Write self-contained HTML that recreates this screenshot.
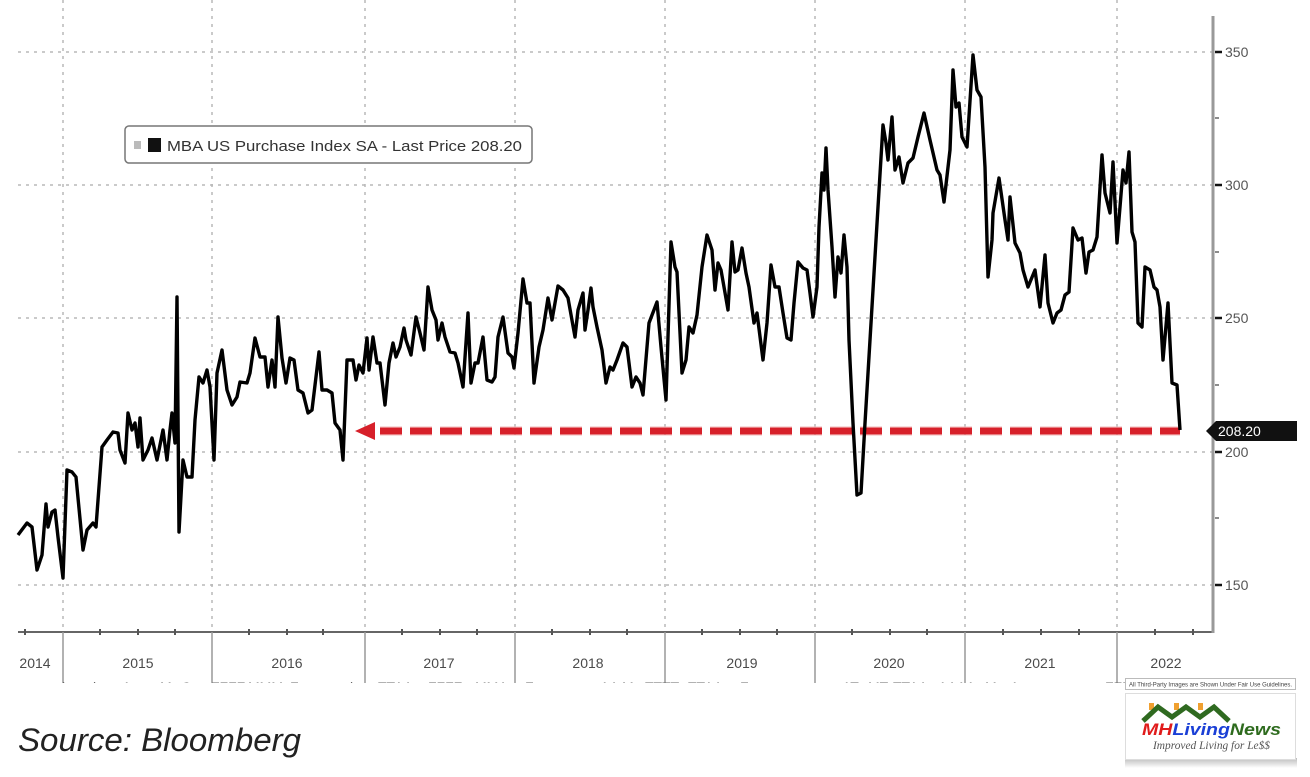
<!DOCTYPE html>
<html><head><meta charset="utf-8"><style>
html,body{margin:0;padding:0;background:#fff;}
svg{display:block;}
</style></head><body>
<svg width="1310" height="777" viewBox="0 0 1310 777" xmlns="http://www.w3.org/2000/svg">
<defs>
<clipPath id="row2"><rect x="0" y="672" width="1300" height="11"/></clipPath>
<clipPath id="tagclip"><rect x="1200" y="410" width="97" height="40"/></clipPath>
<linearGradient id="shad" x1="0" y1="0" x2="0" y2="1"><stop offset="0" stop-color="#bbb"/><stop offset="1" stop-color="#fff"/></linearGradient>
</defs>
<rect width="1310" height="777" fill="#fff"/>

<!-- horizontal grid -->
<g stroke="#b8b8b8" stroke-width="1.5" stroke-dasharray="3 5">
<line x1="18" y1="52" x2="1212" y2="52"/>
<line x1="18" y1="185" x2="1212" y2="185"/>
<line x1="18" y1="318" x2="1212" y2="318"/>
<line x1="18" y1="452" x2="1212" y2="452"/>
<line x1="18" y1="585" x2="1212" y2="585"/>
</g>
<!-- vertical grid -->
<g stroke="#b8b8b8" stroke-width="1.5" stroke-dasharray="3 5">
<line x1="63" y1="0" x2="63" y2="631"/>
<line x1="212" y1="0" x2="212" y2="631"/>
<line x1="365" y1="0" x2="365" y2="631"/>
<line x1="515" y1="0" x2="515" y2="631"/>
<line x1="665" y1="0" x2="665" y2="631"/>
<line x1="815" y1="0" x2="815" y2="631"/>
<line x1="965" y1="0" x2="965" y2="631"/>
<line x1="1117" y1="0" x2="1117" y2="631"/>
</g>

<!-- legend -->
<rect x="125" y="126" width="407" height="37" rx="4" fill="#fff" stroke="#777" stroke-width="1.5"/>
<rect x="134" y="141" width="7" height="8" fill="#bbb"/>
<rect x="148" y="138" width="13" height="14" fill="#111"/>
<text x="167" y="151" font-family="Liberation Sans, sans-serif" font-size="15" fill="#333" textLength="355" lengthAdjust="spacingAndGlyphs">MBA US Purchase Index SA - Last Price 208.20</text>

<!-- red dashed arrow -->
<line x1="380" y1="431" x2="1180" y2="431" stroke="#f2b8b8" stroke-width="10" stroke-dasharray="22 8" opacity="0.5"/>
<line x1="380" y1="431" x2="1180" y2="431" stroke="#d7202a" stroke-width="7" stroke-dasharray="22 8"/>
<polygon points="355,431 375,422 375,440" fill="#d7202a"/>

<!-- data line -->
<polyline fill="none" stroke="#000" stroke-width="3.4" stroke-linejoin="round" points="
18,535 27,523 32,527 37,570 42,555 46,504 48,527 52,512 55,510 58,537 63,578 67,470 72,472 76,477 83,550 87,530 93,523 96,527 102,447 107,440 113,432 118,433 120,450 125,463 128,413 132,430 135,423 138,447 140,418 143,460 148,450 152,438 157,460 163,430 167,460 170,430 172,413 175,443 177,297 179,532 183,460 187,477 192,477 195,420 199,377 203,383 207,370 210,387 214,460 217,373 222,350 227,390 232,405 237,397 240,382 247,383 250,373 255,338 260,357 265,357 268,387 272,360 275,387 278,317 282,358 286,383 290,358 294,360 298,390 303,393 308,413 312,410 319,352 322,390 327,390 332,393 335,423 340,430 343,460
347,360 353,360 356,380 359,365 363,373 367,338 369,370 373,337 377,363 380,363 385,405 389,363 393,343 396,357 400,347 404,328 406,340 411,355 416,317 420,333 424,350 428,287 432,310 436,320 438,340 442,323 445,337 450,352 455,353 458,363 463,387 468,313 471,383 475,363 478,363 483,337 487,380 492,382 495,377 498,337 503,317 508,353 512,357 514,368 518,333 523,279 527,303 530,303 534,383 539,347 543,330 548,298 552,320 558,286 563,290 568,298 575,337 578,310 583,293 585,330 588,310 591,288 593,307 597,327 602,350 606,383 610,367 613,370 617,360 623,343 627,347 632,387 636,377 640,383 643,395 649,323 657,302 661,347 666,400 671,242 675,267 677,272 682,373 686,360 689,327 693,333 697,315 702,267 707,235 712,250 715,290 718,263
721,270 724,287 728,310 732,242 735,272 738,270 742,248 746,273 749,287 754,323 757,313 763,360 767,323 771,265 775,287 779,287 783,313 787,338 791,340 794,303 798,262 803,268 807,270 810,293 813,317 817,287 819,227 822,173 824,190 826,148 828,190 832,247 835,297 838,257 841,273 844,235 847,267 849,340 853,423 857,495 861,493 865,423 870,340 876,240 883,125 886,143 888,160 892,117 895,170 899,157 903,183 908,163 913,158 918,137 924,113 930,140 937,170 940,175 944,202 950,150 953,70 956,107 959,103 962,137 967,147 973,55 977,90 981,97 985,167 988,277 992,240 993,213 999,178 1005,220 1008,240 1010,197 1015,243 1020,253 1023,270 1028,287 1035,270 1040,307 1045,255 1048,303 1053,323 1057,313 1061,310 1065,295 1069,292 1073,228 1078,240 1082,238 1086,273 1089,252 1093,250 1097,237 1102,155 1105,193 1110,213 1113,162 1117,243 1120,207 1123,170 1126,183 1129,152 1132,232 1135,242 1138,323 1142,327 1145,267 1150,270 1154,287 1157,290 1160,307 1163,360 1168,303 1172,383 1177,385 1180,430"/>

<!-- axes -->
<line x1="18" y1="632" x2="1213" y2="632" stroke="#666" stroke-width="2"/>
<line x1="1213" y1="16" x2="1213" y2="633" stroke="#999" stroke-width="3"/>
<!-- right ticks -->
<g stroke="#111" stroke-width="2.5">
<line x1="1215" y1="52" x2="1222" y2="52"/>
<line x1="1215" y1="185" x2="1222" y2="185"/>
<line x1="1215" y1="318" x2="1222" y2="318"/>
<line x1="1215" y1="452" x2="1222" y2="452"/>
<line x1="1215" y1="585" x2="1222" y2="585"/>
</g>
<g stroke="#666" stroke-width="1.5">
<line x1="1215" y1="118" x2="1219" y2="118"/>
<line x1="1215" y1="252" x2="1219" y2="252"/>
<line x1="1215" y1="385" x2="1219" y2="385"/>
<line x1="1215" y1="518" x2="1219" y2="518"/>
</g>
<g font-family="Liberation Sans, sans-serif" font-size="14" fill="#555">
<text x="1225" y="57">350</text>
<text x="1225" y="190">300</text>
<text x="1225" y="323">250</text>
<text x="1225" y="457">200</text>
<text x="1225" y="590">150</text>
</g>
<!-- last price tag -->
<g clip-path="url(#tagclip)">
<polygon points="1206,431 1216,421 1300,421 1300,441 1216,441" fill="#111"/>
<text x="1218" y="436" font-family="Liberation Sans, sans-serif" font-size="14" fill="#fff">208.20</text>
</g>

<!-- bottom ticks -->
<g stroke="#555" stroke-width="2">
<line x1="25" y1="629" x2="25" y2="635"/><line x1="100" y1="629" x2="100" y2="635"/><line x1="138" y1="629" x2="138" y2="635"/><line x1="175" y1="629" x2="175" y2="635"/>
<line x1="249" y1="629" x2="249" y2="635"/><line x1="287" y1="629" x2="287" y2="635"/><line x1="323" y1="629" x2="323" y2="635"/>
<line x1="402" y1="629" x2="402" y2="635"/><line x1="440" y1="629" x2="440" y2="635"/><line x1="477" y1="629" x2="477" y2="635"/>
<line x1="552" y1="629" x2="552" y2="635"/><line x1="590" y1="629" x2="590" y2="635"/><line x1="627" y1="629" x2="627" y2="635"/>
<line x1="702" y1="629" x2="702" y2="635"/><line x1="740" y1="629" x2="740" y2="635"/><line x1="777" y1="629" x2="777" y2="635"/>
<line x1="852" y1="629" x2="852" y2="635"/><line x1="890" y1="629" x2="890" y2="635"/><line x1="927" y1="629" x2="927" y2="635"/>
<line x1="1003" y1="629" x2="1003" y2="635"/><line x1="1041" y1="629" x2="1041" y2="635"/><line x1="1079" y1="629" x2="1079" y2="635"/>
<line x1="1155" y1="629" x2="1155" y2="635"/><line x1="1193" y1="629" x2="1193" y2="635"/>
</g>
<g stroke="#999" stroke-width="1.5">
<line x1="63" y1="632" x2="63" y2="683"/>
<line x1="212" y1="632" x2="212" y2="683"/>
<line x1="365" y1="632" x2="365" y2="683"/>
<line x1="515" y1="632" x2="515" y2="683"/>
<line x1="665" y1="632" x2="665" y2="683"/>
<line x1="815" y1="632" x2="815" y2="683"/>
<line x1="965" y1="632" x2="965" y2="683"/>
<line x1="1117" y1="632" x2="1117" y2="683"/>
</g>
<g font-family="Liberation Sans, sans-serif" font-size="14" fill="#4a4a4a" text-anchor="middle">
<text x="35" y="668">2014</text>
<text x="138" y="668">2015</text>
<text x="287" y="668">2016</text>
<text x="439" y="668">2017</text>
<text x="588" y="668">2018</text>
<text x="742" y="668">2019</text>
<text x="889" y="668">2020</text>
<text x="1040" y="668">2021</text>
<text x="1166" y="668">2022</text>
</g>
<g clip-path="url(#row2)" font-family="Liberation Sans, sans-serif" font-size="14" fill="#666">
<text x="62" y="692">l</text><text x="93" y="692">l</text><text x="122" y="692">Ar</text><text x="160" y="692">M</text><text x="181" y="692">C</text>
<text x="211" y="692">FFFF</text><text x="248" y="692">MMM</text><text x="290" y="692">F</text><text x="350" y="692">l</text>
<text x="378" y="692">TTAA</text><text x="428" y="692">FFFF</text><text x="475" y="692">MMA</text><text x="525" y="692">F</text>
<text x="600" y="692">AA</text><text x="622" y="692">M</text><text x="645" y="692">TTTT</text><text x="688" y="692">TTAA</text><text x="740" y="692">F</text>
<text x="842" y="692">AT</text><text x="868" y="692">MT</text><text x="893" y="692">TTAA</text><text x="938" y="692">AAAA</text><text x="985" y="692">M</text><text x="1010" y="692">A</text>
<text x="1105" y="692">FFF</text><text x="1150" y="692">TTTT</text><text x="1200" y="692">TTTT</text>
</g>

<!-- source -->
<text x="18" y="751" font-family="Liberation Sans, sans-serif" font-style="italic" font-size="32" fill="#222" textLength="283" lengthAdjust="spacingAndGlyphs">Source: Bloomberg</text>

<!-- logo -->
<rect x="1125.5" y="678.5" width="170" height="11" fill="#fff" stroke="#bbb" stroke-width="1"/>
<text x="1129" y="686.5" font-family="Liberation Sans, sans-serif" font-size="6.2" fill="#444" textLength="163" lengthAdjust="spacingAndGlyphs">All Third-Party Images are Shown Under Fair Use Guidelines.</text>
<rect x="1125" y="758" width="172" height="10" fill="url(#shad)"/>
<rect x="1125.5" y="693.5" width="170" height="66" fill="#fff" stroke="#ddd" stroke-width="1"/>
<g fill="#f0a030">
<rect x="1149" y="703" width="5" height="7"/>
<rect x="1174" y="703" width="5" height="7"/>
<rect x="1198" y="703" width="5" height="7"/>
</g>
<polyline points="1143,721 1158,707 1172,717 1186,707 1200,717 1214,707 1229,721" fill="none" stroke="#2f6a20" stroke-width="5" stroke-linejoin="miter"/>
<text x="1142" y="735" font-family="Liberation Sans, sans-serif" font-style="italic" font-weight="bold" font-size="17" textLength="139" lengthAdjust="spacingAndGlyphs"><tspan fill="#e01b1b">MH</tspan><tspan fill="#1a3fd6">Living</tspan><tspan fill="#2e6b1e">News</tspan></text>
<text x="1153" y="749" font-family="Liberation Serif, serif" font-style="italic" font-size="12" fill="#555" textLength="117" lengthAdjust="spacingAndGlyphs">Improved Living for Le$$</text>
</svg>
</body></html>
